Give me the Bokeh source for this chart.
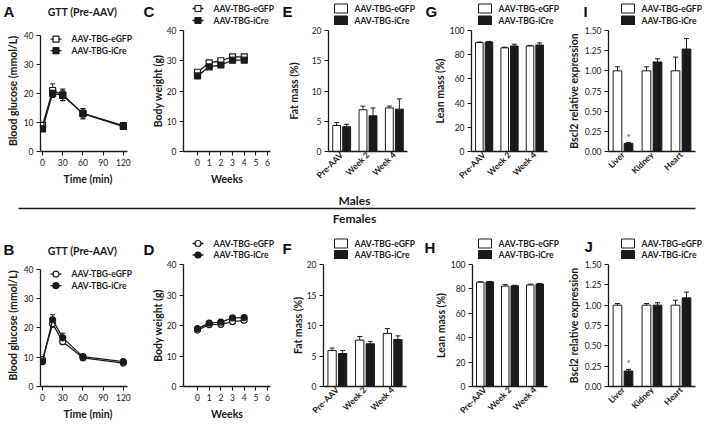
import math
from bokeh.plotting import figure
from bokeh.models import (ColumnDataSource, Range1d, FactorRange, Label, FixedTicker,
                          NumeralTickFormatter)
from bokeh.transform import dodge
from bokeh.layouts import row, column
from bokeh.embed import file_html
from bokeh.resources import INLINE
from bokeh.core.properties import value, field

# ---------------- data ----------------
series_names = ["AAV-TBG-eGFP", "AAV-TBG-iCre"]
gtt_minutes = [0, 15, 30, 60, 120]
gtt_ticks = [0, 30, 60, 90, 120]
week_points = [0, 1, 2, 3, 4]
week_ticks = [0, 1, 2, 3, 4, 5, 6]
mass_categories = ["Pre-AAV", "Week 2", "Week 4"]
tissue_categories = ["Liver", "Kidney", "Heart"]
glucose_ticks = [0, 10, 20, 30, 40]
weight_ticks = [0, 10, 20, 30, 40]
fat_ticks = [0, 5, 10, 15, 20]
lean_ticks = [0, 20, 40, 60, 80, 100]
expr_ticks = [0, 0.25, 0.5, 0.75, 1.0, 1.25, 1.5]

# Males
m_gtt_egfp = [9.0, 21.0, 19.5, 13.0, 8.6]
m_gtt_egfp_err = [1.0, 2.3, 2.0, 1.8, 0.8]
m_gtt_icre = [7.8, 20.0, 19.3, 13.1, 8.9]
m_gtt_icre_err = [0.8, 1.4, 1.8, 1.6, 0.8]
m_bw_egfp = [26.2, 29.3, 30.0, 31.3, 31.3]
m_bw_egfp_err = [0.6, 0.6, 0.6, 0.5, 0.6]
m_bw_icre = [25.0, 28.0, 28.6, 30.2, 30.2]
m_bw_icre_err = [0.6, 0.6, 0.6, 0.6, 0.6]
m_fat_egfp = [4.3, 6.9, 7.2]
m_fat_egfp_err = [0.5, 0.6, 0.3]
m_fat_icre = [4.1, 5.9, 7.0]
m_fat_icre_err = [0.4, 1.3, 1.7]
m_lean_egfp = [90.0, 85.7, 87.2]
m_lean_egfp_err = [0.5, 0.5, 0.5]
m_lean_icre = [90.5, 87.2, 88.0]
m_lean_icre_err = [0.5, 1.5, 1.8]
m_bscl2_egfp = [1.00, 1.00, 1.00]
m_bscl2_egfp_err = [0.05, 0.05, 0.17]
m_bscl2_icre = [0.10, 1.11, 1.27]
m_bscl2_icre_err = [0.01, 0.04, 0.13]
m_bscl2_sig = ["*", "", ""]

# Females
f_gtt_egfp = [9.2, 21.4, 15.3, 9.8, 8.0]
f_gtt_egfp_err = [0.5, 1.2, 1.0, 0.6, 0.5]
f_gtt_icre = [8.5, 22.8, 16.6, 10.2, 8.5]
f_gtt_icre_err = [0.5, 1.7, 1.6, 0.6, 0.5]
f_bw_egfp = [18.5, 20.3, 20.4, 21.3, 21.7]
f_bw_egfp_err = [0.4, 0.5, 0.5, 0.5, 0.5]
f_bw_icre = [19.0, 20.8, 21.1, 22.5, 22.6]
f_bw_icre_err = [0.4, 0.4, 0.5, 0.5, 0.5]
f_fat_egfp = [5.9, 7.6, 8.7]
f_fat_egfp_err = [0.4, 0.6, 0.8]
f_fat_icre = [5.4, 7.0, 7.7]
f_fat_icre_err = [0.5, 0.4, 0.6]
f_lean_egfp = [85.5, 82.3, 83.2]
f_lean_egfp_err = [0.3, 1.2, 0.7]
f_lean_icre = [85.8, 82.5, 84.0]
f_lean_icre_err = [0.3, 0.5, 0.5]
f_bscl2_egfp = [1.00, 1.00, 1.00]
f_bscl2_egfp_err = [0.02, 0.02, 0.06]
f_bscl2_icre = [0.19, 1.00, 1.09]
f_bscl2_icre_err = [0.02, 0.03, 0.07]
f_bscl2_sig = ["*", "", ""]

# ---------------- style ----------------
FONT = "Lato"
LETTER_FONT = "Liberation Sans"
INK = "#1a1a1a"
OFF = 0.19
BW = 0.30
W = 708


def style_axis(ax):
    ax.axis_line_width = 1.3
    ax.axis_line_color = INK
    ax.major_tick_line_color = INK
    ax.major_tick_line_width = 1.1
    ax.major_tick_in = 0
    ax.major_tick_out = 4
    ax.minor_tick_line_color = None
    ax.major_label_text_font = FONT
    ax.major_label_text_font_size = "8.5px"
    ax.major_label_text_color = INK
    ax.major_label_standoff = 3
    ax.axis_label_text_font = FONT
    ax.axis_label_text_font_style = "bold"
    ax.axis_label_text_font_size = "10.5px"
    ax.axis_label_text_color = INK
    ax.axis_label_standoff = 3


def make_fig(width, height, left, right, top, bottom, x_range, y_range):
    p = figure(width=width, height=height, x_range=x_range, y_range=y_range,
               output_backend="svg", toolbar_location=None,
               min_border_left=left, min_border_right=right,
               min_border_top=top, min_border_bottom=bottom)
    p.outline_line_color = None
    p.xgrid.visible = False
    p.ygrid.visible = False
    for ax in p.axis:
        style_axis(ax)
    return p


def strip(height, y0):
    """Full-width figure whose data coordinates equal page pixels."""
    s = figure(width=W, height=height, x_range=Range1d(0, W),
               y_range=Range1d(y0 + height, y0), x_axis_type=None, y_axis_type=None,
               output_backend="svg", toolbar_location=None,
               min_border_left=0, min_border_right=0, min_border_top=0,
               min_border_bottom=0)
    s.outline_line_color = None
    for g in s.grid:
        g.visible = False
    return s


def text(p, x, y, t, size="10.5px", style="bold", align="left", font=FONT, rn=None,
         color=INK):
    kw = dict(x_range_name=rn, y_range_name=rn) if rn else {}
    p.add_layout(Label(x=x, y=y, text=t, text_font=font, text_font_size=size,
                       text_font_style=style, text_align=align, text_baseline="middle",
                       text_color=color, **kw))


def letter(p, x, y, t):
    text(p, x, y, t, size="15px", font=LETTER_FONT, color="#111111")


def draw_key(p, kind, x, y1, y2, marker=None, rn=None):
    kw = dict(x_range_name=rn, y_range_name=rn) if rn else {}
    if kind == "line":
        src = ColumnDataSource(dict(x0=[x, x], x1=[x + 11, x + 11], xm=[x + 5.5, x + 5.5],
                                    y=[y1, y2], fill=["white", INK]))
        p.segment(x0="x0", y0="y", x1="x1", y1="y", source=src, line_color=INK,
                  line_width=1.3, **kw)
        p.scatter(x="xm", y="y", source=src, marker=marker, size=6,
                  fill_color=field("fill"), line_color=INK, line_width=1.2, **kw)
        tx = x + 21
    else:
        src = ColumnDataSource(dict(l=[x, x], r=[x + 13, x + 13], t=[y1 - 4.5, y2 - 4.5],
                                    b=[y1 + 4.5, y2 + 4.5], fill=["white", INK]))
        p.quad(left="l", right="r", top="t", bottom="b", source=src,
               fill_color=field("fill"), line_color=INK, line_width=1, **kw)
        tx = x + 20
    for yy, name in ((y1, series_names[0]), (y2, series_names[1])):
        text(p, tx, yy, name, size="8.5px", rn=rn)


def line_panel(p, xs, a, ae, b, be, marker, size):
    def src(v, e):
        return ColumnDataSource(dict(x=xs, y=v,
                                     lo=[q - w for q, w in zip(v, e)],
                                     hi=[q + w for q, w in zip(v, e)]))
    sa, sb = src(a, ae), src(b, be)
    for s in (sa, sb):
        p.segment(x0="x", y0="lo", x1="x", y1="hi", source=s, line_color=INK, line_width=1)
        p.scatter(x="x", y="hi", source=s, marker="dash", size=5, line_color=INK, line_width=1)
        p.scatter(x="x", y="lo", source=s, marker="dash", size=5, line_color=INK, line_width=1)
    p.line("x", "y", source=sa, line_color=INK, line_width=1.3)
    p.scatter("x", "y", source=sa, marker=marker, size=size, fill_color="white",
              line_color=INK, line_width=1.2)
    p.line("x", "y", source=sb, line_color=INK, line_width=1.3)
    p.scatter("x", "y", source=sb, marker=marker, size=size, fill_color=INK,
              line_color=INK, line_width=1.2)


def bar_panel(p, cats, a, ae, b, be, marks=None):
    src = ColumnDataSource(dict(cat=cats, a=a, ah=[q + w for q, w in zip(a, ae)],
                                b=b, bh=[q + w for q, w in zip(b, be)],
                                mark=marks if marks else [""] * len(cats)))
    p.vbar(x=dodge("cat", -OFF, range=p.x_range), top="a", width=BW, source=src,
           fill_color="white", line_color=INK, line_width=1)
    p.vbar(x=dodge("cat", OFF, range=p.x_range), top="b", width=BW, source=src,
           fill_color=INK, line_color=INK, line_width=1)
    for off, lo, hi in ((-OFF, "a", "ah"), (OFF, "b", "bh")):
        p.segment(x0=dodge("cat", off, range=p.x_range), y0=lo,
                  x1=dodge("cat", off, range=p.x_range), y1=hi,
                  source=src, line_color=INK, line_width=1)
        p.scatter(x=dodge("cat", off, range=p.x_range), y=hi, source=src, marker="dash",
                  size=5, line_color=INK, line_width=1)
    if marks:
        p.text(x=dodge("cat", OFF, range=p.x_range), y="bh", text="mark", source=src,
               text_align="center", text_baseline="bottom", text_font=value(FONT),
               text_font_size=value("10px"), text_color="#555555")
    p.xaxis.major_tick_out = 0
    p.xaxis.major_label_orientation = math.pi / 4
    p.xaxis.major_label_text_font_style = "bold"
    p.xaxis.major_label_standoff = 2


# ---- geometry (page pixels) ----
TOP_Y0, TOP_H = 25, 167          # panel figures of the male row
BOT_Y0, BOT_H = 259, 165         # panel figures of the female row
MID_Y0, MID_H = 192, 67


def gtt_fig(y0, h, bottom, frame_top, frame_bottom, vals, marker, key_rows):
    # frame reaches the canvas top so the in-plot key is not clipped
    fh = frame_bottom - y0
    px_per = (frame_bottom - frame_top) / 40.0
    left, fw = 40, 95
    p = make_fig(140, h, left, 140 - left - fw, 0, bottom,
                 Range1d(-3, -3 + fw / 0.674), Range1d(0, fh / px_per))
    line_panel(p, gtt_minutes, *vals, marker, 6)
    p.xaxis.ticker = FixedTicker(ticks=gtt_ticks)
    p.yaxis.ticker = FixedTicker(ticks=glucose_ticks)
    p.xaxis.bounds = (-3, 126)
    p.yaxis.bounds = (0, 40)
    p.xaxis.axis_label = "Time (min)"
    p.yaxis.axis_label = "Blood glucose (mmol/L)"
    p.yaxis.axis_label_standoff = 2
    p.xaxis.axis_label_standoff = 4
    p.extra_x_ranges = {"pg": Range1d(left, left + fw)}
    p.extra_y_ranges = {"pg": Range1d(frame_bottom, y0)}
    draw_key(p, "line", 50, key_rows[0], key_rows[1], marker=marker, rn="pg")
    return p


def bw_fig(h, bottom, vals, marker):
    p = make_fig(140, h, 43, 10, 5, bottom, Range1d(-1.2, 6.25), Range1d(0, 40))
    line_panel(p, week_points, *vals, marker, 6)
    p.xaxis.ticker = FixedTicker(ticks=week_ticks)
    p.yaxis.ticker = FixedTicker(ticks=weight_ticks)
    p.xaxis.axis_label = "Weeks"
    p.yaxis.axis_label = "Body weight (g)"
    p.yaxis.axis_label_standoff = 0
    p.xaxis.axis_label_standoff = 4
    return p


def fat_fig(h, bottom, left, right, vals, standoff):
    p = make_fig(140, h, left, right, 5, bottom, FactorRange(factors=mass_categories),
                 Range1d(0, 20))
    bar_panel(p, mass_categories, *vals)
    p.yaxis.ticker = FixedTicker(ticks=fat_ticks)
    p.yaxis.axis_label = "Fat mass (%)"
    p.yaxis.axis_label_standoff = standoff
    return p


def lean_fig(h, bottom, left, right, vals):
    p = make_fig(140, h, left, right, 5, bottom, FactorRange(factors=mass_categories),
                 Range1d(0, 100))
    bar_panel(p, mass_categories, *vals)
    p.yaxis.ticker = FixedTicker(ticks=lean_ticks)
    p.yaxis.axis_label = "Lean mass (%)"
    p.yaxis.axis_label_standoff = 1
    return p


def expr_fig(h, bottom, vals, marks):
    p = make_fig(148, h, 48, 13, 5, bottom, FactorRange(factors=tissue_categories),
                 Range1d(0, 1.5))
    bar_panel(p, tissue_categories, *vals, marks=marks)
    p.yaxis.ticker = FixedTicker(ticks=expr_ticks)
    p.yaxis.formatter = NumeralTickFormatter(format="0.00")
    p.yaxis.axis_label = "Bscl2 relative expression"
    p.yaxis.axis_label_standoff = 2
    return p


# ---- male row ----
figA = gtt_fig(TOP_Y0, TOP_H, 41, 30, 151,
               (m_gtt_egfp, m_gtt_egfp_err, m_gtt_icre, m_gtt_icre_err), "square", (34, 46))
figC = bw_fig(TOP_H, 41, (m_bw_egfp, m_bw_egfp_err, m_bw_icre, m_bw_icre_err), "square")
figE = fat_fig(TOP_H, 41, 48, 13, (m_fat_egfp, m_fat_egfp_err, m_fat_icre, m_fat_icre_err), 9)
figG = lean_fig(TOP_H, 41, 51, 13,
                (m_lean_egfp, m_lean_egfp_err, m_lean_icre, m_lean_icre_err))
figI = expr_fig(TOP_H, 41, (m_bscl2_egfp, m_bscl2_egfp_err, m_bscl2_icre, m_bscl2_icre_err),
                m_bscl2_sig)

# ---- female row ----
figB = gtt_fig(BOT_Y0, BOT_H, 38, 264, 386,
               (f_gtt_egfp, f_gtt_egfp_err, f_gtt_icre, f_gtt_icre_err), "circle", (269, 281))
figD = bw_fig(BOT_H, 38, (f_bw_egfp, f_bw_egfp_err, f_bw_icre, f_bw_icre_err), "circle")
figF = fat_fig(BOT_H, 38, 43, 14, (f_fat_egfp, f_fat_egfp_err, f_fat_icre, f_fat_icre_err), 0)
figH = lean_fig(BOT_H, 38, 52, 13,
                (f_lean_egfp, f_lean_egfp_err, f_lean_icre, f_lean_icre_err))
figJ = expr_fig(BOT_H, 38, (f_bscl2_egfp, f_bscl2_egfp_err, f_bscl2_icre, f_bscl2_icre_err),
                f_bscl2_sig)

# ---- header strip of the male row: panel letters, title, keys ----
head = strip(TOP_Y0, 0)
for lx, lt in ((3, "A"), (143, "C"), (282, "E"), (425, "G"), (583, "I")):
    letter(head, lx, 11, lt)
text(head, 82, 11, "GTT (Pre-AAV)", align="center")
draw_key(head, "line", 192, 8, 20, marker="square")
draw_key(head, "bar", 334, 8, 20)
draw_key(head, "bar", 478, 8, 20)
draw_key(head, "bar", 621, 8, 20)

# ---- middle strip: sex headings, separator, female letters and keys ----
mid = strip(MID_H, MID_Y0)
text(mid, 354, 200, "Males", size="12px", align="center")
sep = ColumnDataSource(dict(x0=[18], x1=[695], y=[208]))
mid.segment(x0="x0", y0="y", x1="x1", y1="y", source=sep, line_color=INK, line_width=1.6)
text(mid, 354, 218, "Females", size="12px", align="center")
for lx, ly, lt in ((3, 249, "B"), (143, 248.5, "D"), (282, 248, "F"), (424, 247, "H"),
                   (584, 246, "J")):
    letter(mid, lx, ly, lt)
text(mid, 82, 250, "GTT (Pre-AAV)", align="center")
draw_key(mid, "line", 192, 243, 254.5, marker="circle")
draw_key(mid, "bar", 334, 243, 254.5)
draw_key(mid, "bar", 478, 243, 254.5)
draw_key(mid, "bar", 621, 243, 254.5)

page = column(head, row(figA, figC, figE, figG, figI, spacing=0), mid,
              row(figB, figD, figF, figH, figJ, spacing=0), spacing=0)

open("out.html", "w").write(file_html(page, INLINE))
